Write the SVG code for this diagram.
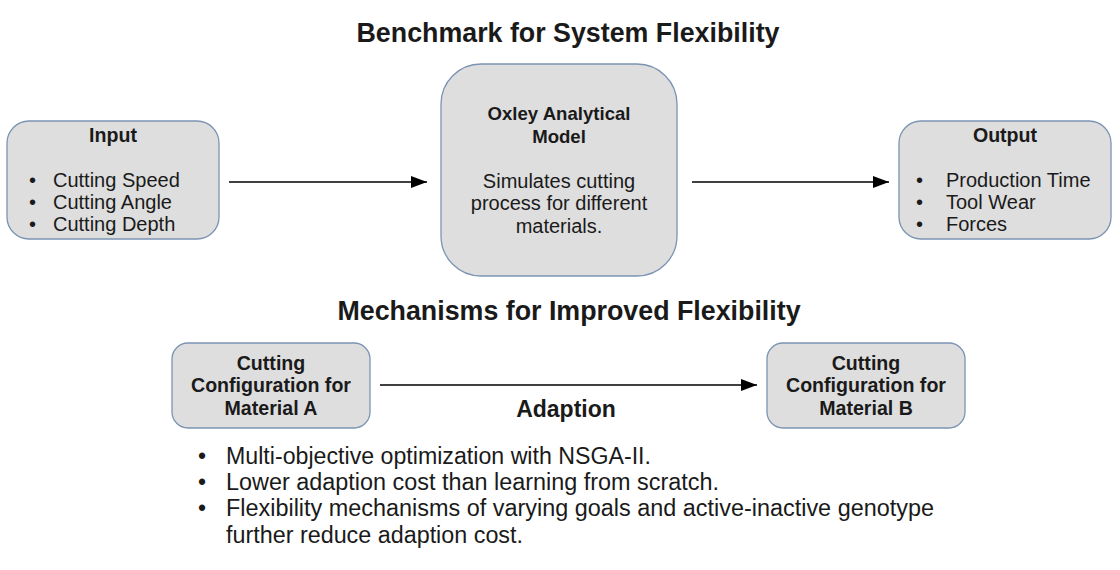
<svg xmlns="http://www.w3.org/2000/svg" width="1120" height="570" viewBox="0 0 1120 570">
<defs>
<marker id="ah2" viewBox="0 0 16 12" refX="16" refY="6" markerWidth="16" markerHeight="12" markerUnits="userSpaceOnUse" orient="auto"><path d="M0,0 L16,6 L0,12 Z" fill="#000"/></marker>
</defs>
<style>
.box{fill:#dedede;stroke:#7b94b3;stroke-width:1.3}
text{font-family:"Liberation Sans",Arial,sans-serif;fill:#1a1a1a}
.title{font-size:26.8px;font-weight:bold;text-anchor:middle}
.hd{font-size:19.6px;font-weight:bold;text-anchor:middle}
.bt{font-size:20px}
.ct{font-size:20px;text-anchor:middle}
.bl{font-size:23px}
.conn{stroke:#000;stroke-width:1.6;fill:none}
</style>
<rect width="1120" height="570" fill="#fff"/>
<text class="title" x="568" y="42">Benchmark for System Flexibility</text>
<text class="title" x="569" y="320">Mechanisms for Improved Flexibility</text>

<g id="input">
<rect class="box" x="7" y="121" width="212" height="118" rx="22"/>
<text class="hd" x="113" y="142">Input</text>
<text class="bt" x="29" y="187">•</text><text class="bt" x="53" y="187">Cutting Speed</text>
<text class="bt" x="29" y="209">•</text><text class="bt" x="53" y="209">Cutting Angle</text>
<text class="bt" x="29" y="231">•</text><text class="bt" x="53" y="231">Cutting Depth</text>
</g>

<g id="oxley">
<rect class="box" x="441" y="64" width="236" height="212" rx="40"/>
<text class="hd" x="559" y="120" style="font-size:18.6px">Oxley Analytical</text>
<text class="hd" x="559" y="143" style="font-size:18.6px">Model</text>
<text class="ct" x="559" y="188">Simulates cutting</text>
<text class="ct" x="559" y="210">process for different</text>
<text class="ct" x="559" y="233">materials.</text>
</g>

<g id="output">
<rect class="box" x="899" y="121" width="212" height="118" rx="22"/>
<text class="hd" x="1005" y="142">Output</text>
<text class="bt" x="916" y="187">•</text><text class="bt" x="946" y="187">Production Time</text>
<text class="bt" x="916" y="209">•</text><text class="bt" x="946" y="209">Tool Wear</text>
<text class="bt" x="916" y="231">•</text><text class="bt" x="946" y="231">Forces</text>
</g>

<g id="matA">
<rect class="box" x="172" y="343" width="198" height="85" rx="16"/>
<text class="hd" x="271" y="370">Cutting</text>
<text class="hd" x="271" y="392">Configuration for</text>
<text class="hd" x="271" y="415">Material A</text>
</g>

<g id="matB">
<rect class="box" x="767" y="343" width="198" height="85" rx="16"/>
<text class="hd" x="866" y="370">Cutting</text>
<text class="hd" x="866" y="392">Configuration for</text>
<text class="hd" x="866" y="415">Material B</text>
</g>

<g id="connectors">
<line class="conn" x1="229" y1="182" x2="427" y2="182" marker-end="url(#ah2)"/>
<line class="conn" x1="692" y1="182" x2="889" y2="182" marker-end="url(#ah2)"/>
<line class="conn" x1="380" y1="385" x2="757" y2="385" marker-end="url(#ah2)"/>
</g>
<text class="hd" x="566" y="417" style="font-size:23px">Adaption</text>

<g id="notes">
<text class="bl" x="198" y="464">•</text>
<text class="bl" x="226" y="464" textLength="425" lengthAdjust="spacingAndGlyphs">Multi-objective optimization with NSGA-II.</text>
<text class="bl" x="198" y="490">•</text>
<text class="bl" x="226" y="490" textLength="493" lengthAdjust="spacingAndGlyphs">Lower adaption cost than learning from scratch.</text>
<text class="bl" x="198" y="516">•</text>
<text class="bl" x="226" y="516" textLength="708" lengthAdjust="spacingAndGlyphs">Flexibility mechanisms of varying goals and active-inactive genotype</text>
<text class="bl" x="226" y="543" textLength="297" lengthAdjust="spacingAndGlyphs">further reduce adaption cost.</text>
</g>
</svg>
